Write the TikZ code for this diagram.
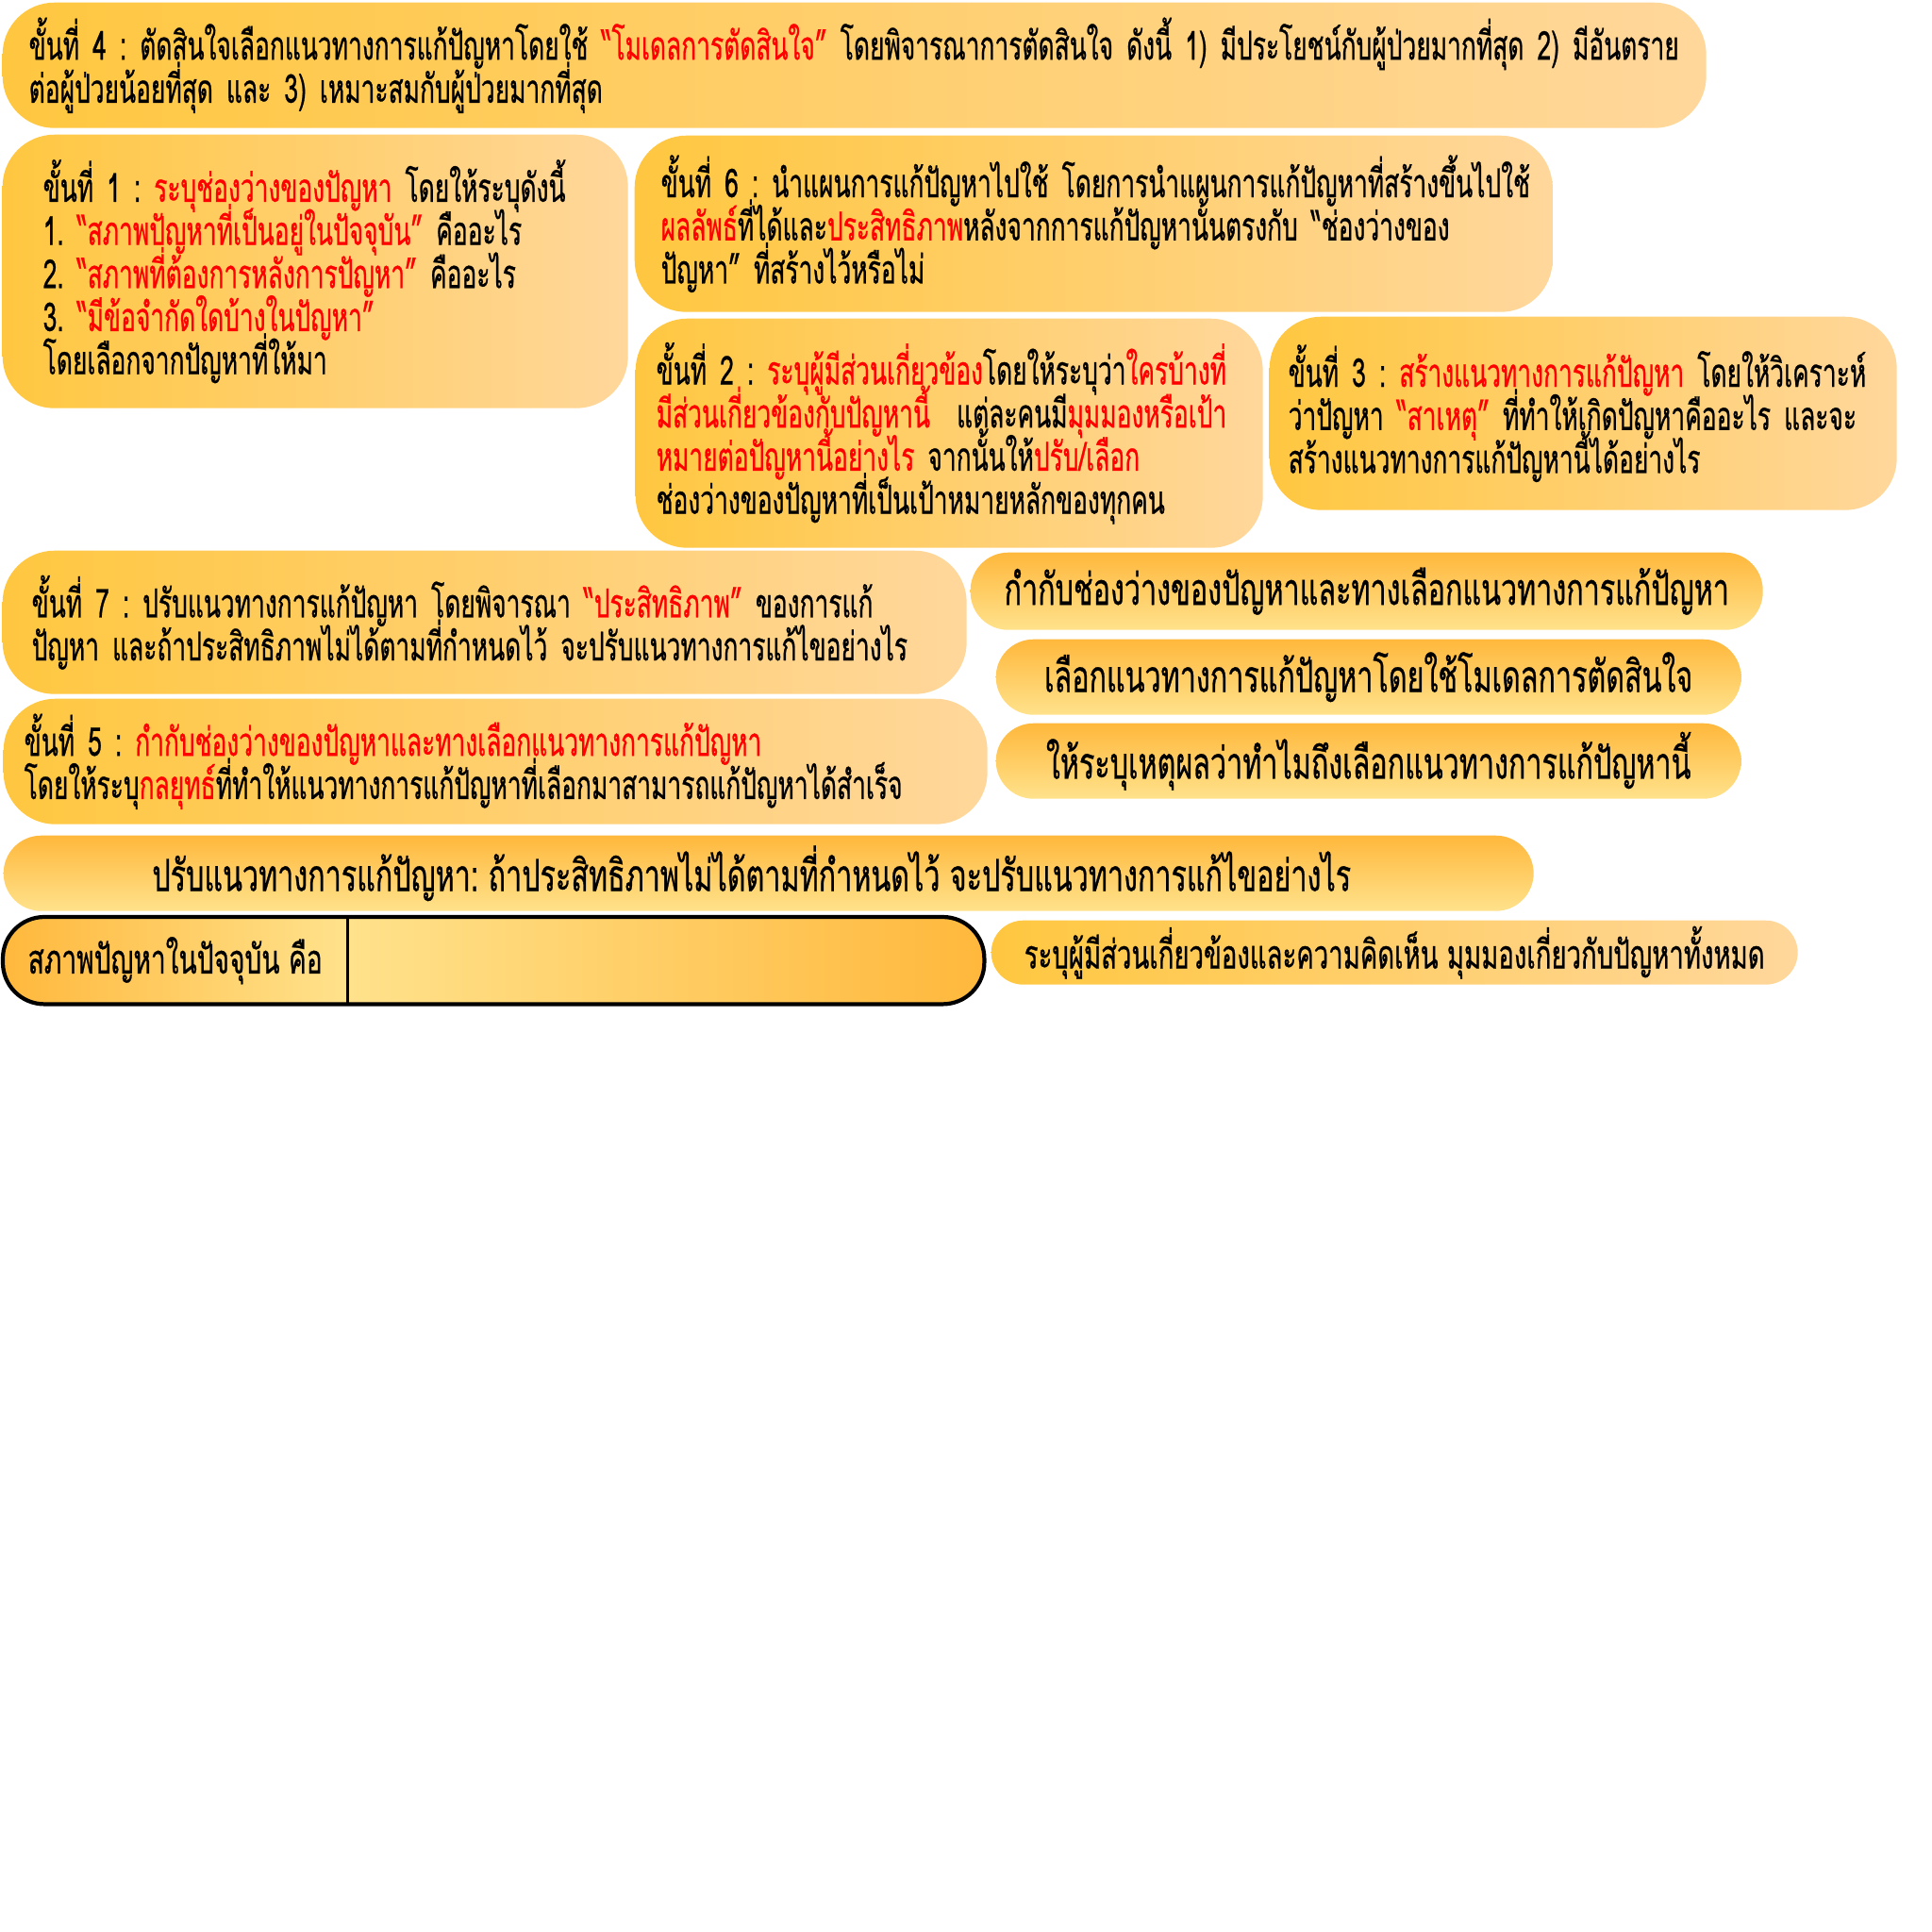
\documentclass[tikz,border=0pt]{standalone}
\usepackage{fontspec}
\newfontfamily\thaifont[Script=Thai,FakeStretch=0.625,FakeBold=0.6]{Loma}
\newfontfamily\pillthai[Script=Thai,FakeStretch=0.65,FakeBold=0.6]{Loma}
\usetikzlibrary{positioning}
\frenchspacing

\definecolor{ambleft}{RGB}{255,199,64}
\definecolor{ambright}{RGB}{255,215,155}
\definecolor{pilltop}{RGB}{255,184,60}
\definecolor{pillbot}{RGB}{255,226,140}
\definecolor{hilite}{RGB}{255,0,0}
\newcommand{\hl}[1]{\textcolor{hilite}{#1}}
\newcommand{\oneline}[1]{\mbox{#1}}
\newcommand{\stepfont}{\fontsize{12}{13}\selectfont\thaifont\lineskiplimit=-30pt\relax}
\newcommand{\pillfont}{\fontsize{13.35}{14}\selectfont\pillthai}

\tikzset{
  stepbox/.style={rounded corners=0.55cm, left color=ambleft, right color=ambright,
    anchor=north west, align=left, inner ysep=0pt, font=\stepfont},
  pillbox/.style={rounded corners=0.4cm, top color=pilltop, bottom color=pillbot,
    anchor=north west, align=center, inner sep=0pt, font=\pillfont},
}

\begin{document}
\begin{tikzpicture}
    \useasboundingbox (0,0) rectangle (20.48,-20.48);

    % Step boxes
    \node (stepfour) [stepbox, minimum width=18.06cm, minimum height=1.33cm, text width=17.50cm, inner xsep=0.28cm] at (0.02,-0.02)
        {\oneline{ขั้นที่ 4 : ตัดสินใจเลือกแนวทางการแก้ปัญหาโดยใช้ \hl{“โมเดลการตัดสินใจ”} โดยพิจารณาการตัดสินใจ ดังนี้ 1) มีประโยชน์กับผู้ป่วยมากที่สุด 2) มีอันตราย}\\
         \oneline{ต่อผู้ป่วยน้อยที่สุด และ 3) เหมาะสมกับผู้ป่วยมากที่สุด}};
    \node (stepone) [stepbox, minimum width=6.63cm, minimum height=2.90cm, text width=5.77cm, inner xsep=0.43cm] at (0.02,-1.42)
        {\oneline{ขั้นที่ 1 : \hl{ระบุช่องว่างของปัญหา} โดยให้ระบุดังนี้}\\
         \oneline{1. \hl{“สภาพปัญหาที่เป็นอยู่ในปัจจุบัน”} คืออะไร}\\
         \oneline{2. \hl{“สภาพที่ต้องการหลังการปัญหา”} คืออะไร}\\
         \oneline{3. \hl{“มีข้อจำกัดใดบ้างในปัญหา”}}\\
         \oneline{โดยเลือกจากปัญหาที่ให้มา}};
    \node (stepsix) [stepbox, minimum width=9.73cm, minimum height=1.87cm, text width=9.17cm, inner xsep=0.28cm] at (6.72,-1.43)
        {\oneline{ขั้นที่ 6 : นำแผนการแก้ปัญหาไปใช้ โดยการนำแผนการแก้ปัญหาที่สร้างขึ้นไปใช้}\\
         \oneline{\hl{ผลลัพธ์}ที่ได้และ\hl{ประสิทธิภาพ}หลังจากการแก้ปัญหานั้นตรงกับ “ช่องว่างของ}\\
         \oneline{ปัญหา” ที่สร้างไว้หรือไม่}};
    \node (steptwo) [stepbox, minimum width=6.65cm, minimum height=2.43cm, text width=6.21cm, inner xsep=0.22cm] at (6.73,-3.37)
        {\oneline{ขั้นที่ 2 : \hl{ระบุผู้มีส่วนเกี่ยวข้อง}โดยให้ระบุว่า\hl{ใครบ้างที่}}\\
         \oneline{\hl{มีส่วนเกี่ยวข้องกับปัญหานี้}~ แต่ละคนมี\hl{มุมมองหรือเป้า}}\\
         \oneline{\hl{หมายต่อปัญหานี้อย่างไร} จากนั้นให้\hl{ปรับ/เลือก}}\\
         \oneline{ช่องว่างของปัญหาที่เป็นเป้าหมายหลักของทุกคน}};
    \node (stepthree) [stepbox, minimum width=6.65cm, minimum height=2.05cm, text width=6.25cm, inner xsep=0.20cm] at (13.45,-3.35)
        {\oneline{ขั้นที่ 3 : \hl{สร้างแนวทางการแก้ปัญหา} โดยให้วิเคราะห์}\\
         \oneline{ว่าปัญหา \hl{“สาเหตุ”} ที่ทำให้เกิดปัญหาคืออะไร และจะ}\\
         \oneline{สร้างแนวทางการแก้ปัญหานี้ได้อย่างไร}};
    \node (stepseven) [stepbox, minimum width=10.22cm, minimum height=1.52cm, text width=9.60cm, inner xsep=0.31cm] at (0.02,-5.83)
        {\makebox[9.51cm][s]{ขั้นที่ 7 : ปรับแนวทางการแก้ปัญหา โดยพิจารณา \hl{“ประสิทธิภาพ”} ของการแก้}\\
         \oneline{ปัญหา และถ้าประสิทธิภาพไม่ได้ตามที่กำหนดไว้ จะปรับแนวทางการแก้ไขอย่างไร}};
    \node (stepfive) [stepbox, minimum width=10.43cm, minimum height=1.33cm, text width=9.99cm, inner xsep=0.22cm] at (0.03,-7.40)
        {\oneline{ขั้นที่ 5 : \hl{กำกับช่องว่างของปัญหาและทางเลือกแนวทางการแก้ปัญหา}}\\
         \oneline{โดยให้ระบุ\hl{กลยุทธ์}ที่ทำให้แนวทางการแก้ปัญหาที่เลือกมาสามารถแก้ปัญหาได้สำเร็จ}};

    % Pill boxes
    \node (controlgap) [pillbox, minimum width=8.40cm, minimum height=0.82cm] at (10.28,-5.85)
        {กำกับช่องว่างของปัญหาและทางเลือกแนวทางการแก้ปัญหา};
    \node (choosemodel) [pillbox, minimum width=7.90cm, minimum height=0.80cm] at (10.55,-6.77)
        {เลือกแนวทางการแก้ปัญหาโดยใช้โมเดลการตัดสินใจ};
    \node (givereason) [pillbox, minimum width=7.90cm, minimum height=0.80cm] at (10.55,-7.66)
        {ให้ระบุเหตุผลว่าทำไมถึงเลือกแนวทางการแก้ปัญหานี้};
    \node (adjustplan) [pillbox, minimum width=16.22cm, minimum height=0.80cm] at (0.03,-8.85)
        {ปรับแนวทางการแก้ปัญหา: ถ้าประสิทธิภาพไม่ได้ตามที่กำหนดไว้ จะปรับแนวทางการแก้ไขอย่างไร\hspace{0.36cm}};
    \node (stakeholders) [pillbox, rounded corners=0.34cm, left color=ambleft, right color=ambright, minimum width=8.55cm, minimum height=0.68cm,
        font=\fontsize{12.06}{13}\selectfont\pillthai] at (10.50,-9.75)
        {ระบุผู้มีส่วนเกี่ยวข้องและความคิดเห็น มุมมองเกี่ยวกับปัญหาทั้งหมด};

    % Current state bar
    \begin{scope}
        \clip[rounded corners=0.44cm] (0.03,-9.72) rectangle (10.42,-10.63);
        \shade[left color=pilltop, right color=pillbot] (0.03,-9.72) rectangle (3.67,-10.63);
        \shade[left color=pillbot, right color=pilltop] (3.67,-9.72) rectangle (10.42,-10.63);
    \end{scope}
    \node (nowlabel) [anchor=north west, minimum width=3.64cm, minimum height=0.91cm, inner sep=0pt,
        font=\fontsize{12.3}{13}\selectfont\pillthai] at (0.03,-9.72) {สภาพปัญหาในปัจจุบัน คือ};
    \node (nowfield) [anchor=north west, minimum width=6.75cm, minimum height=0.91cm, inner sep=0pt] at (3.67,-9.72) {};
    \draw[line width=1.2pt, rounded corners=0.44cm] (nowlabel.north west) rectangle (nowfield.south east);
    \draw[line width=1pt] (nowlabel.north east) -- (nowlabel.south east);
\end{tikzpicture}
\end{document}
